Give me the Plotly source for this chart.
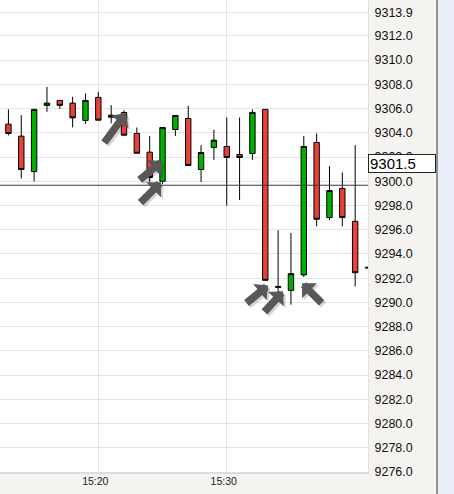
import plotly.graph_objects as go

DAY = "2024-01-02 "
times = ["15:13", "15:14", "15:15", "15:16", "15:17", "15:18", "15:19", "15:20",
         "15:21", "15:22", "15:23", "15:24", "15:25", "15:26", "15:27", "15:28",
         "15:29", "15:30", "15:31", "15:32", "15:33", "15:34", "15:35", "15:36",
         "15:37", "15:38", "15:39", "15:40", "15:41"]
opens = [9304.71, 9303.72, 9300.80, 9306.26, 9306.67, 9306.45, 9305.02, 9306.92,
         9305.29, 9305.68, 9303.94, 9302.40, 9300.00, 9304.27, 9305.18, 9300.97,
         9302.79, 9302.87, 9302.21, 9302.29, 9305.93, 9291.32, 9290.99, 9292.27,
         9303.20, 9297.00, 9299.40, 9296.69, 9292.90]
highs = [9305.93, 9305.45, 9305.93, 9307.79, 9306.67, 9306.97, 9307.25, 9307.38,
         9306.28, 9305.85, 9304.44, 9303.74, 9304.44, 9305.43, 9306.22, 9302.98,
         9304.24, 9305.26, 9305.26, 9305.93, 9305.93, 9295.95, 9295.73, 9303.74,
         9303.94, 9301.24, 9300.72, 9302.98, 9292.90]
lows = [9303.78, 9300.22, 9299.98, 9305.73, 9305.98, 9304.44, 9304.74, 9305.04,
        9304.77, 9303.80, 9302.31, 9299.89, 9299.78, 9303.74, 9301.30, 9299.94,
        9301.76, 9297.99, 9298.45, 9301.76, 9291.82, 9290.25, 9289.81, 9292.09,
        9296.28, 9296.78, 9296.28, 9291.32, 9292.85]
closes = [9303.94, 9300.97, 9305.93, 9306.45, 9306.26, 9305.23, 9306.67, 9305.04,
          9305.45, 9303.80, 9302.31, 9300.31, 9304.44, 9305.43, 9301.30, 9302.37,
          9303.39, 9301.96, 9301.96, 9305.68, 9291.82, 9291.25, 9292.37, 9302.87,
          9296.86, 9299.23, 9297.00, 9292.45, 9292.85]

ref_line_price = 9299.67
marker_price = 9301.5
y_ticks = [9276 + 2 * i for i in range(19)] + [9313.9]
x_ticks = ["15:20", "15:30"]

# arrow annotations: (time, price, tail dx px, tail dy px)
arrow_time = ["15:22:09", "15:24:58", "15:24:53", "15:33:13", "15:34:23", "15:35:52"]
arrow_price = [9305.62, 9301.65, 9299.92, 9291.40, 9290.91, 9291.57]
arrow_dx = [-22, -23, -21, -22, -19, 20]
arrow_dy = [30, 19, 21, 18, 21, 20]

x = [DAY + t for t in times]

fig = go.Figure(go.Candlestick(
    x=x, open=opens, high=highs, low=lows, close=closes,
    increasing=dict(fillcolor="#00b000", line=dict(color="#000000", width=1)),
    decreasing=dict(fillcolor="#e8413a", line=dict(color="#000000", width=1)),
    whiskerwidth=0, hoverinfo="skip",
))

PW, PH = 368, 472
annotations = []
for t, p, dx, dy in zip(arrow_time, arrow_price, arrow_dx, arrow_dy):
    for col, sh in (("rgba(0,0,0,0.16)", 2), ("#585858", 0)):
        annotations.append(dict(
            x=DAY + t, y=p, xref="x", yref="y", ax=dx, ay=dy,
            axref="pixel", ayref="pixel", text="", showarrow=True,
            font=dict(size=1), borderpad=0,
            arrowhead=1, arrowsize=0.47, arrowwidth=7.5, arrowcolor=col,
            xshift=sh, yshift=-sh, standoff=0, startstandoff=0))

annotations.append(dict(
    x=1, xref="paper", xanchor="left", y=marker_price, yref="y", yanchor="middle",
    text="9301.5", showarrow=False, align="left",
    font=dict(family="Liberation Sans, Arial", size=15, color="#000"),
    bgcolor="#ffffff", bordercolor="#222", borderwidth=1, borderpad=1,
    width=64, height=15))

shapes = [
    dict(type="line", xref="paper", yref="y", x0=0, x1=1,
         y0=ref_line_price, y1=ref_line_price, line=dict(color="#3a3a3a", width=1)),
    dict(type="rect", xref="paper", yref="paper", x0=437.5 / PW, x1=460 / PW,
         y0=-30 / PH, y1=1.05, fillcolor="#e9eef8", line=dict(width=0), layer="above"),
    dict(type="line", xref="paper", yref="paper", x0=437 / PW, x1=437 / PW,
         y0=-30 / PH, y1=1.05, line=dict(color="#333", width=1), layer="above"),
]

fig.update_layout(
    width=454, height=494,
    margin=dict(l=0, r=454 - PW, t=0, b=494 - PH, pad=0),
    paper_bgcolor="#f4f3ef", plot_bgcolor="#ffffff",
    showlegend=False, boxgap=0.4, hovermode=False,
    font=dict(family="Liberation Sans, Arial", color="#111"),
    xaxis=dict(
        type="date", range=[DAY + "15:12:20.6", DAY + "15:41:00"],
        rangeslider=dict(visible=False),
        tickvals=[DAY + t for t in x_ticks], ticktext=x_ticks,
        showgrid=True, gridcolor="#e4e4e4", gridwidth=1,
        ticks="", tickfont=dict(size=10.5, color="#222"),
        showline=True, linecolor="#dcdcdc", linewidth=2,
        zeroline=False, ticklabelshift=-3, ticklabelstandoff=-2,
    ),
    yaxis=dict(
        side="right", range=[9276, 9314.96],
        tickvals=y_ticks, ticktext=[f"{v:.1f}" for v in y_ticks],
        showgrid=True, gridcolor="#e4e4e4", gridwidth=1,
        ticks="", tickfont=dict(size=12.5, color="#111"),
        showline=True, linecolor="#e0e0e0", linewidth=1,
        zeroline=False, ticklabelstandoff=3,
    ),
    annotations=annotations, shapes=shapes,
)

fig.write_html("out.html", post_script="document.body.style.margin='0';",
               config={"displayModeBar": False})
